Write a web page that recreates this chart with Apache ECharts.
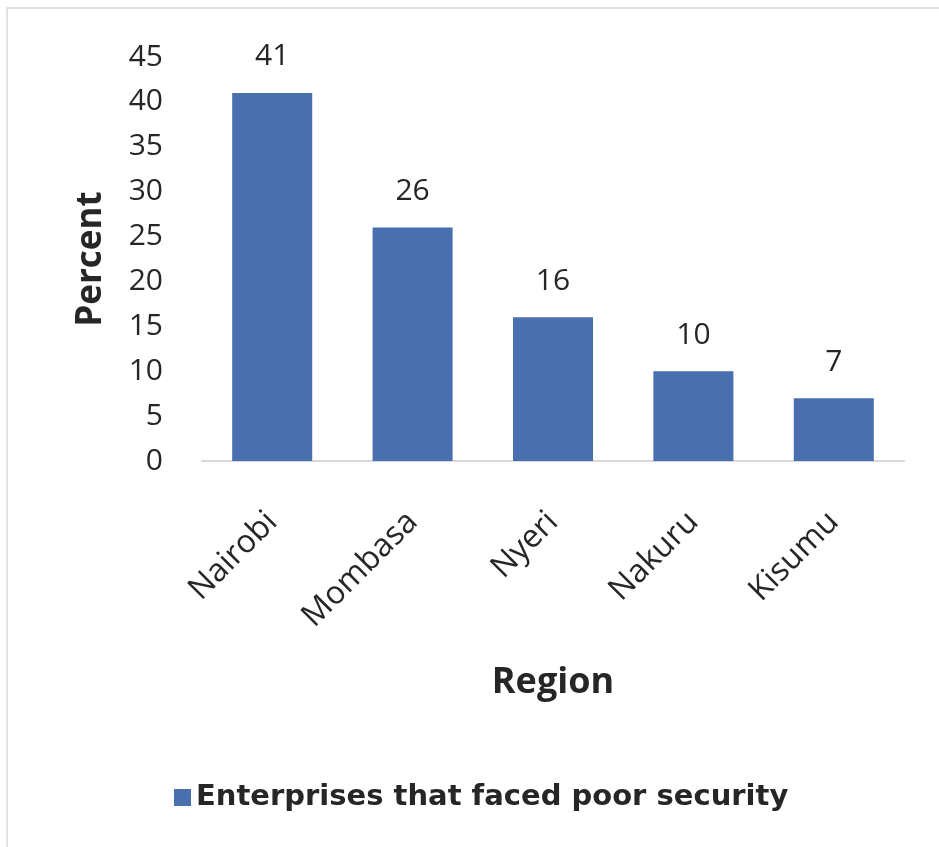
<!DOCTYPE html>
<html>
<head>
<meta charset="utf-8">
<script src="https://cdn.jsdelivr.net/npm/echarts@6/dist/echarts.min.js"></script>
<style>
  html, body { margin: 0; padding: 0; background: #ffffff; }
  #chart { width: 939px; height: 847px; }
</style>
</head>
<body>
<div id="chart"></div>
<script>
// Regions and share of enterprises reporting poor security (%)
const regions = ['Nairobi', 'Mombasa', 'Nyeri', 'Nakuru', 'Kisumu'];
const poorSecurity = [41, 26, 16, 10, 7];
const seriesName = 'Enterprises that faced poor security';

const textColor = '#262626';
const font = 'Open Sans';

const chart = echarts.init(document.getElementById('chart'));
chart.setOption({
  backgroundColor: '#ffffff',
  animation: false,
  graphic: [{
    type: 'rect',
    shape: { x: 7, y: 8, width: 960, height: 880 },
    style: { fill: 'none', stroke: '#d9d9d9', lineWidth: 1.5 },
    silent: true
  }],
  grid: { left: 202, right: 35, top: 57, bottom: 386, containLabel: false },
  legend: {
    data: [seriesName],
    bottom: 30,
    left: 169,
    icon: 'rect',
    itemWidth: 17,
    itemHeight: 17,
    itemGap: 8,
    textStyle: { fontFamily: 'DejaVu Sans', fontWeight: 'bold', fontSize: 29, color: textColor }
  },
  xAxis: {
    type: 'category',
    data: regions,
    name: 'Region',
    nameLocation: 'middle',
    nameGap: 204,
    nameTextStyle: { fontFamily: font, fontWeight: 'bold', fontSize: 36, color: textColor },
    axisLine: { lineStyle: { color: '#d9d9d9', width: 2 } },
    axisTick: { show: false },
    axisLabel: { rotate: 45, fontFamily: font, fontSize: 32, color: textColor, margin: 56 }
  },
  yAxis: {
    type: 'value',
    min: 0,
    max: 45,
    interval: 5,
    name: 'Percent',
    nameLocation: 'middle',
    nameGap: 93,
    nameRotate: 90,
    nameTextStyle: { fontFamily: font, fontWeight: 'bold', fontSize: 35, color: textColor },
    axisLine: { show: false },
    axisTick: { show: false },
    splitLine: { show: false },
    axisLabel: { fontFamily: font, fontSize: 30, color: textColor, margin: 39 }
  },
  series: [{
    name: seriesName,
    type: 'bar',
    data: poorSecurity,
    barCategoryGap: '43%',
    itemStyle: { color: '#4a6fae' },
    label: {
      show: true,
      position: 'top',
      distance: 21,
      fontFamily: font,
      fontSize: 30,
      color: textColor
    }
  }]
});
</script>
</body>
</html>
